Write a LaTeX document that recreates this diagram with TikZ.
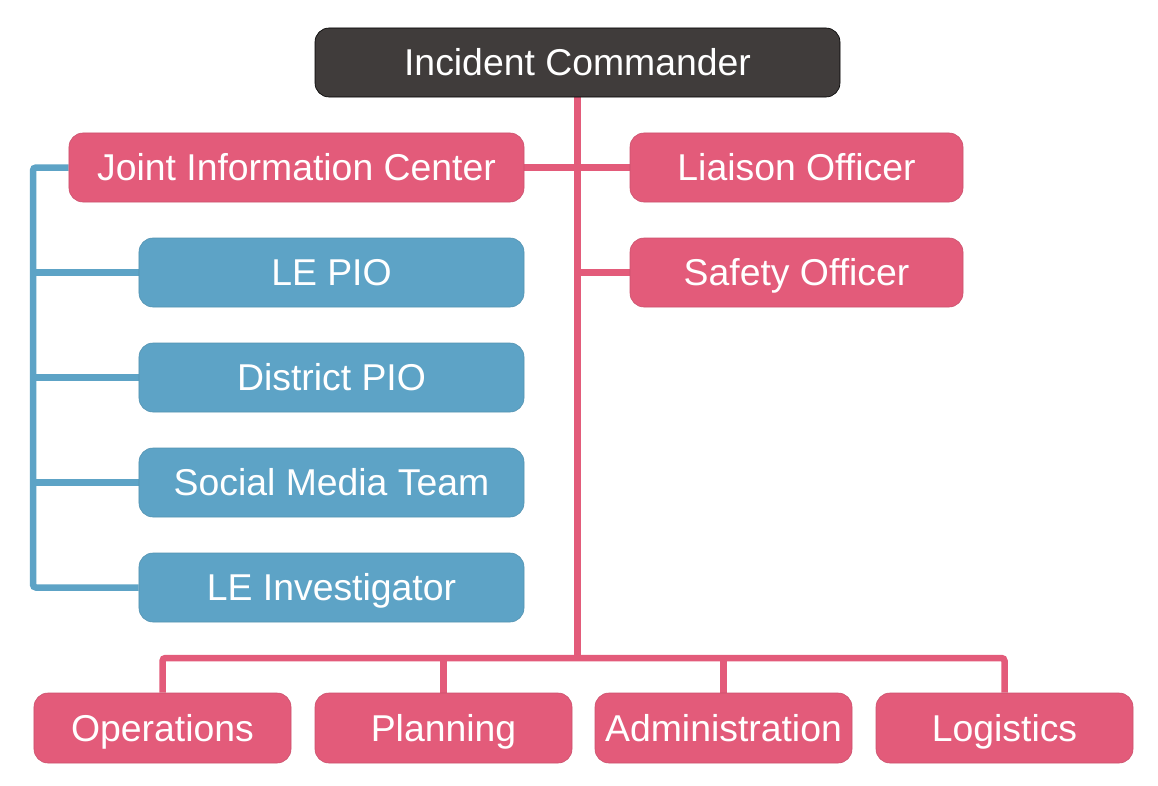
\documentclass[tikz,border=0pt]{standalone}
\usepackage{fontspec}
\setmainfont{Liberation Sans}
\usetikzlibrary{backgrounds}
\definecolor{icdark}{HTML}{403C3B}
\definecolor{icred}{HTML}{E35B7A}
\definecolor{icblue}{HTML}{5DA3C6}
\tikzset{
  box/.style={rectangle, rounded corners=14bp, inner sep=0pt, text=white,
    font=\fontsize{37.5}{44}\selectfont, text height=26.5bp, text depth=0bp,
    minimum height=69bp, line width=0.6bp},
  redbox/.style={box, fill=icred, draw=icred!90!black},
  bluebox/.style={box, fill=icblue, draw=icblue!90!black},
  darkbox/.style={box, fill=icdark, draw=black},
  redline/.style={draw=icred, line width=6.5bp, rounded corners=3bp},
  blueline/.style={draw=icblue, line width=6.5bp, rounded corners=3bp},
}
\begin{document}
\begin{tikzpicture}[x=1bp, y=-1bp]
\useasboundingbox (0,0) rectangle (1158,786);
\node[darkbox, minimum width=525bp] (ic) at (577.5,62.5) {Incident Commander};
\node[redbox, minimum width=455bp] (jic) at (296.5,167.5) {Joint Information Center};
\node[redbox, minimum width=333bp] (lia) at (796.5,167.5) {Liaison Officer};
\node[redbox, minimum width=333bp] (saf) at (796.5,272.5) {Safety Officer};
\node[bluebox, minimum width=385bp] (lepio) at (331.5,272.5) {LE PIO};
\node[bluebox, minimum width=385bp] (dpio) at (331.5,377.5) {District PIO};
\node[bluebox, minimum width=385bp] (smt) at (331.5,482.5) {Social Media Team};
\node[bluebox, minimum width=385bp] (inv) at (331.5,587.5) {LE Investigator};
\node[redbox, minimum width=257bp, minimum height=70bp] (ops) at (162.5,728) {Operations};
\node[redbox, minimum width=257bp, minimum height=70bp] (plan) at (443.5,728) {Planning};
\node[redbox, minimum width=257bp, minimum height=70bp] (adm) at (723.5,728) {Administration};
\node[redbox, minimum width=257bp, minimum height=70bp] (log) at (1004.5,728) {Logistics};
\coordinate (bus) at (577.5,658);
\coordinate (bx) at (33,0);
\begin{scope}[on background layer]
  \fill[white] (0,0) rectangle (1158,786);
  \draw[redline] (ic.south) -- (bus);
  \draw[redline] (jic.east) -- (lia.west);
  \draw[redline] (saf.west) -- (saf.west -| ic.south);
  \draw[redline] (ops.north) |- (bus) -| (log.north);
  \draw[redline] (plan.north) -- (plan.north |- bus);
  \draw[redline] (adm.north) -- (adm.north |- bus);
  \draw[blueline] (jic.west) -| (bx |- inv.west) -- (inv.west);
  \draw[blueline] (lepio.west) -- (lepio.west -| bx);
  \draw[blueline] (dpio.west) -- (dpio.west -| bx);
  \draw[blueline] (smt.west) -- (smt.west -| bx);
\end{scope}
\end{tikzpicture}
\end{document}
